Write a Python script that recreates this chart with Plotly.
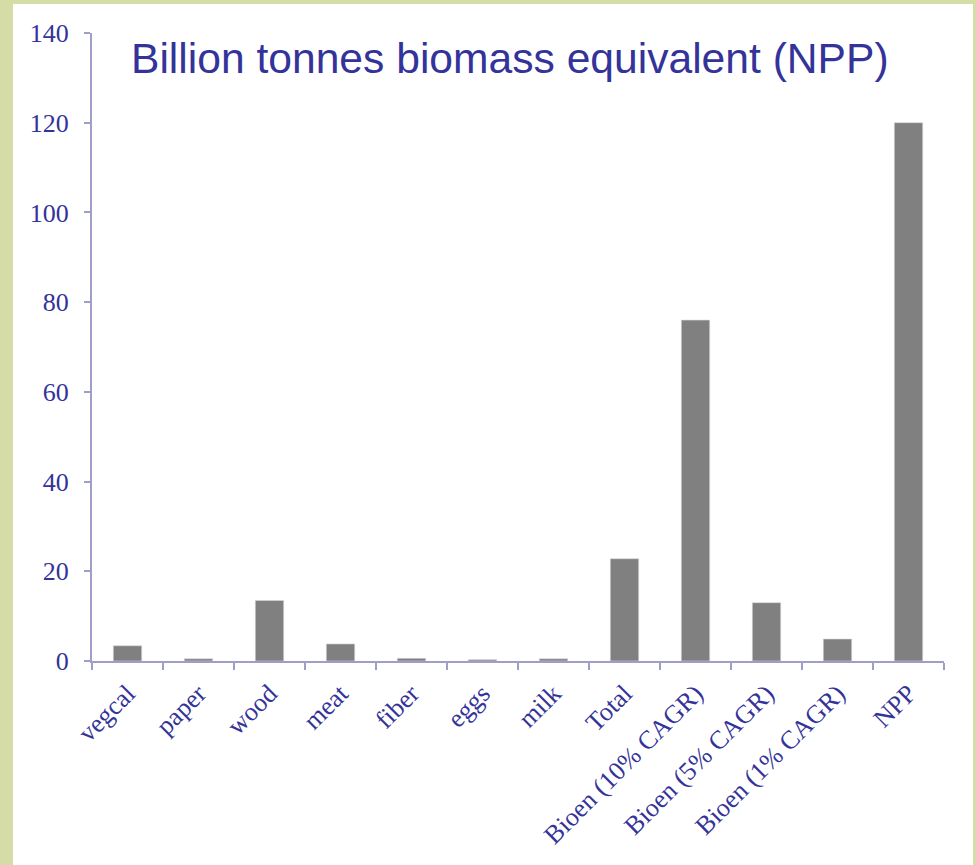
import plotly.graph_objects as go

categories = ["vegcal", "paper", "wood", "meat", "fiber", "eggs", "milk", "Total",
              "Bioen (10% CAGR)", "Bioen (5% CAGR)", "Bioen (1% CAGR)", "NPP"]
values = [3.4, 0.5, 13.5, 3.8, 0.6, 0.3, 0.5, 22.8, 76.0, 13.0, 4.9, 120.0]
y_ticks = [0, 20, 40, 60, 80, 100, 120, 140]

W, H = 976, 865
L, R, T, B = 92, 32, 33, 204
pw, ph = W - L - R, H - T - B

def px_x(px):
    return (px - L) / pw

def px_y(py):
    return (H - B - py) / ph

text_blue = "#333399"
axis_col = "#9e9ec9"

fig = go.Figure(go.Bar(
    x=categories, y=values,
    marker=dict(color="#808080", line=dict(color="#d8d8d8", width=0.6)),
    width=0.4,
))

fig.update_layout(
    width=W, height=H,
    margin=dict(l=L, r=R, t=T, b=B),
    paper_bgcolor="#d5dca6",
    plot_bgcolor="rgba(0,0,0,0)",
    showlegend=False,
    shapes=[dict(type="rect", xref="paper", yref="paper", layer="below",
                 x0=px_x(13), x1=px_x(973), y0=px_y(866), y1=px_y(4),
                 fillcolor="white", line=dict(width=0))],
    annotations=[dict(text="Billion tonnes biomass equivalent (NPP)",
                      xref="paper", yref="paper", x=px_x(510), y=px_y(58),
                      xanchor="center", yanchor="middle", showarrow=False,
                      font=dict(family="Liberation Sans, Arial", size=42.6, color=text_blue))],
)

fig.update_xaxes(
    type="category", showgrid=False, showline=True, linecolor=axis_col, linewidth=2,
    ticks="outside", tickson="boundaries", ticklen=7, tickcolor=axis_col, tickwidth=2,
    tickangle=-45, ticklabelstandoff=5,
    tickfont=dict(family="Liberation Serif, Times New Roman", size=26, color=text_blue),
)
fig.update_yaxes(
    range=[0, 140], tickvals=y_ticks, showgrid=False, zeroline=False,
    showline=True, linecolor=axis_col, linewidth=2,
    ticks="outside", ticklen=6, tickcolor=axis_col, tickwidth=2,
    ticklabelstandoff=10,
    tickfont=dict(family="Liberation Serif, Times New Roman", size=26, color=text_blue),
)

fig.write_html("out.html")
